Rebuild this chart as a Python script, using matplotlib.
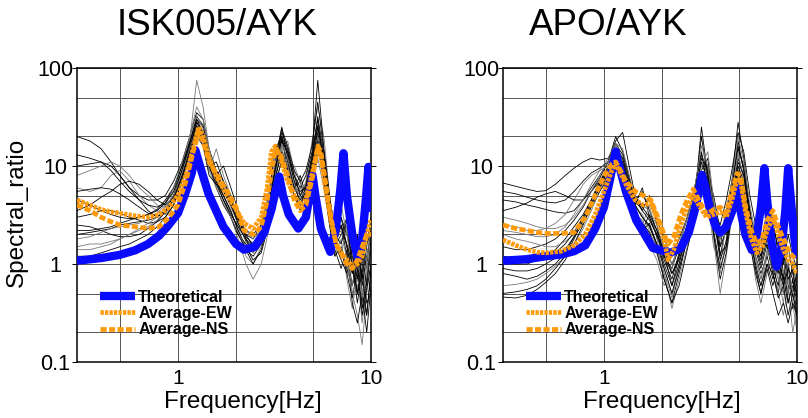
import matplotlib
matplotlib.use('Agg')
import matplotlib.pyplot as plt
from matplotlib.ticker import FixedLocator, NullFormatter


# Frequency grid of the individual records [Hz]
freq = [0.30, 0.35, 0.40, 0.45, 0.50, 0.56, 0.63, 0.70, 0.78, 0.86,
        0.95, 1.05, 1.15, 1.25, 1.35, 1.45, 1.58, 1.72, 1.88, 2.05,
        2.25, 2.45, 2.7, 2.95, 3.2, 3.45, 3.7, 4.0, 4.3, 4.6,
        4.95, 5.3, 5.7, 6.1, 6.5, 7.0, 7.5, 8.0, 8.5, 9.0, 9.5, 10.0]

# ISK005/AYK - individual spectral ratios
isk_records = [
    [20, 18, 15, 11, 8, 6, 5, 4.5, 4.5, 5, 7, 11, 20, 35, 30, 15, 9, 7, 5, 3,
     2, 1.5, 2, 4, 12, 25, 12, 6, 8, 5, 12, 30, 10, 4, 2, 3, 1.5, 0.8, 1.5, 0.6, 1.2, 2],
    [10, 10.5, 11, 10, 8, 6, 4.5, 3.5, 3, 3.5, 5, 9, 15, 28, 22, 12, 8, 10, 6, 3.5,
     2, 1.8, 2.5, 5, 15, 20, 9, 5, 4, 6, 10, 20, 7, 3, 1.5, 2, 3, 1, 0.4, 0.9, 2, 1.5],
    [6, 5.5, 6, 8, 9, 7, 5, 4, 3.5, 3.2, 4, 8, 18, 75, 40, 15, 8, 6, 4, 2.5,
     1.2, 1, 1.5, 3, 8, 15, 18, 9, 5, 7, 18, 40, 20, 5, 2, 1.2, 2.5, 0.5, 0.3, 0.15, 0.5, 1],
    [3, 3.2, 3.5, 3.5, 3.3, 3, 2.8, 2.6, 2.7, 3, 4, 7, 14, 30, 25, 12, 7, 5, 3.5, 2.2,
     1.5, 1.1, 1.3, 2.5, 7, 18, 14, 7, 4, 5, 9, 25, 12, 4, 1.8, 1.3, 0.9, 0.6, 1.2, 0.5, 0.3, 0.8],
    [2, 2.1, 2.2, 2.3, 2.5, 2.6, 2.7, 2.8, 3, 3.5, 5, 9, 16, 25, 18, 10, 6, 4, 3, 2,
     1.6, 1.4, 2, 4, 9, 14, 10, 6, 7, 4, 8, 15, 8, 3, 1.5, 2.5, 1.5, 0.8, 2, 0.7, 1.5, 3],
    [1.5, 1.6, 1.6, 1.7, 1.8, 2, 2.2, 2.4, 2.8, 3.5, 5.5, 10, 20, 40, 30, 14, 8, 5, 3, 1.8,
     1, 0.7, 1, 2.2, 6, 12, 9, 6, 5, 3.5, 6, 12, 6, 2.5, 1.2, 1.8, 0.7, 0.35, 0.8, 0.25, 0.6, 1.5],
    [4.5, 4, 3.5, 3.2, 3, 2.9, 3, 3.2, 3.6, 4.5, 6, 10, 18, 30, 22, 11, 9, 6, 4, 2.8,
     2.2, 2, 2.5, 4, 10, 22, 15, 8, 6, 8, 14, 75, 15, 5, 2.2, 3, 2, 1.2, 0.7, 1.5, 0.9, 2.5],
    [1.2, 1.2, 1.3, 1.4, 1.5, 1.6, 1.8, 2, 2.4, 3, 4, 7, 13, 22, 20, 12, 7, 4.5, 3, 2,
     1.4, 1.2, 1.6, 3, 7, 11, 8, 5, 3.5, 4.5, 7, 14, 9, 3.5, 1.6, 1.1, 0.8, 1.5, 0.5, 0.9, 0.4, 0.5],
    [8, 9, 10, 11, 10, 8, 6, 5, 4, 3.8, 4.5, 7, 12, 20, 16, 9, 15, 8, 5, 3,
     2.2, 1.8, 2.2, 3.5, 8, 16, 12, 10, 7, 5, 10, 18, 8, 4, 2.5, 4, 2, 1, 0.6, 0.4, 1, 1.2],
    [2.5, 2.4, 2.2, 2, 1.9, 1.9, 2, 2.3, 2.7, 3.4, 4.5, 8, 14, 26, 20, 10, 6.5, 4.5, 3.2, 2.4,
     1.8, 1.5, 1.8, 3.5, 9, 18, 11, 6, 4.5, 6, 11, 22, 10, 3, 1.4, 0.9, 1.4, 0.4, 0.25, 0.5, 0.2, 0.6],
    [13, 12, 11, 9, 7, 5.5, 4.5, 4, 3.8, 4.2, 6, 10, 17, 32, 26, 13, 8, 6, 4.5, 3,
     1.8, 1.3, 1.8, 3.5, 10, 24, 16, 9, 7, 9, 16, 45, 14, 4.5, 2, 2.5, 1.2, 0.6, 1, 0.35, 0.7, 1.8],
    [1.8, 1.9, 2.1, 2.3, 2.4, 2.5, 2.6, 2.9, 3.3, 4, 6, 11, 19, 33, 24, 12, 7.5, 5.5, 3.8, 2.6,
     1.9, 1.6, 2.2, 4.5, 11, 15, 10, 5.5, 6, 4.5, 9, 20, 9, 3.5, 1.8, 2.2, 1.1, 0.6, 1.3, 0.45, 0.8, 2.2],
    [3.5, 4, 4.8, 5.5, 6.5, 7, 6.5, 5.5, 4.5, 4, 4.8, 8, 15, 24, 19, 10, 11, 7, 4.5, 2.8,
     1.9, 1.6, 2, 3.8, 9, 19, 13, 7, 5.5, 6, 12, 26, 11, 4, 2, 1.6, 2.8, 0.9, 0.5, 1.2, 0.6, 1.4],
    [2.2, 2.2, 2.3, 2.4, 2.6, 2.8, 3, 3.2, 3.5, 4.2, 5.5, 9, 17, 28, 21, 11, 7, 5, 3.4, 2.2,
     1.4, 1.0, 1.4, 2.8, 8, 13, 9, 5, 4, 5.5, 10, 18, 7, 2.5, 1.2, 1.5, 0.8, 0.45, 0.9, 0.3, 0.55, 1.0],
    [1.4, 1.4, 1.5, 1.6, 1.8, 2, 2.3, 2.6, 3, 3.8, 5, 8.5, 15, 24, 18, 9, 6, 4.2, 3, 2.1,
     1.5, 1.3, 1.7, 3.2, 8.5, 17, 12, 6.5, 5, 5.5, 8, 17, 8.5, 3.2, 1.5, 1.4, 1.0, 0.5, 0.7, 0.5, 1.1, 2.5],
    [5.5, 5.8, 6, 5.8, 5.2, 4.5, 3.8, 3.3, 3.1, 3.3, 4.5, 7.5, 14, 22, 16, 8, 6.5, 5.5, 4, 2.6,
     1.7, 1.4, 1.9, 3.8, 9.5, 20, 14, 8, 5, 6.5, 13, 32, 13, 4.2, 1.9, 2.4, 1.6, 1.0, 0.5, 0.8, 0.3, 0.9],
]

# APO/AYK - individual spectral ratios
apo_records = [
    [6.7, 6.2, 5.8, 5.5, 5.6, 6.5, 8, 9.5, 11, 12, 11.5, 12, 16, 12, 7, 5, 3.5, 5, 2.5, 1.2,
     0.9, 1.5, 3, 6, 14, 6, 2.5, 1.8, 3, 6, 15, 10, 3.5, 1.8, 1.2, 2.5, 3, 1.2, 0.7, 1.5, 0.8, 0.5],
    [4.5, 4.3, 4.0, 3.8, 3.6, 3.4, 3.3, 3.5, 4.5, 6, 8, 11, 20, 14, 8, 4, 6, 3, 2, 1.3,
     0.6, 1.2, 2.2, 4, 9, 12, 4, 1.5, 2.2, 5, 12, 8, 2.5, 1.2, 2, 1.5, 0.8, 0.5, 1.2, 0.4, 0.7, 0.3],
    [2.5, 2.4, 2.2, 2.2, 2.3, 2.6, 3.2, 4.5, 6.5, 8, 9, 10, 14, 12, 6, 3.5, 2.5, 4, 1.8, 0.9,
     0.5, 1.0, 2, 3.5, 7, 6, 2, 0.8, 1.8, 4, 10, 6, 2, 0.9, 0.6, 1.2, 2.2, 0.7, 0.4, 0.9, 0.5, 0.25],
    [1.5, 1.4, 1.4, 1.5, 1.6, 1.8, 2.2, 2.8, 3.8, 5.5, 7, 9, 13, 11, 6, 4, 3, 2.5, 1.5, 0.7,
     0.4, 0.8, 1.8, 3.5, 8, 10, 3.5, 1.2, 2.5, 6, 18, 9, 3, 1.5, 1, 1.8, 1.2, 2, 0.8, 0.5, 1, 0.6],
    [1.0, 1.0, 1.0, 1.1, 1.2, 1.4, 1.8, 2.4, 3.2, 4.5, 6.5, 10, 15, 10, 5, 3, 2.2, 3.2, 2.2, 1.5,
     1, 1.4, 2.5, 5, 20, 7, 2.5, 1.5, 3.5, 7, 28, 12, 3.5, 1.2, 0.8, 1.2, 0.7, 1.5, 0.6, 1, 0.35, 0.4],
    [0.6, 0.62, 0.65, 0.7, 0.8, 0.95, 1.2, 1.6, 2.3, 3.5, 5.5, 8.5, 12, 9, 5, 3.2, 2.8, 2, 1.3, 0.8,
     0.35, 0.7, 1.5, 3, 6, 5, 1.8, 0.5, 1.2, 3, 8, 5, 1.8, 0.7, 0.4, 0.8, 1.2, 0.5, 0.3, 0.6, 0.2, 0.35],
    [0.46, 0.45, 0.48, 0.55, 0.65, 0.8, 1.1, 1.6, 2.5, 4, 6, 9, 13, 11, 7, 4.5, 3.5, 2.8, 2, 1.4,
     0.8, 1.1, 2, 4.5, 25, 8, 5, 2.2, 2, 4.5, 10, 7, 2.5, 1.4, 0.9, 1.6, 0.9, 0.6, 1.4, 0.6, 0.5, 0.8],
    [3.5, 3.8, 4.2, 4.8, 5.2, 5.5, 5, 4.5, 4.5, 5.5, 7.5, 11, 18, 22, 10, 5, 3.8, 4.5, 2.8, 1.8,
     1.2, 1.8, 3, 6, 13, 9, 3.5, 2.5, 4.5, 9, 22, 14, 5, 2.5, 1.6, 3.5, 2.5, 1.5, 1, 2, 1.2, 0.9],
    [2, 1.8, 1.7, 1.6, 1.5, 1.5, 1.7, 2.0, 2.8, 4.5, 7, 10, 12, 9, 4.5, 2.5, 2, 1.6, 1.1, 0.6,
     0.9, 1.6, 2.8, 5.5, 9, 4.5, 1.5, 1, 2.5, 5, 14, 7, 2.5, 1.2, 0.7, 1.3, 1.8, 0.9, 0.5, 0.7, 0.4, 0.2],
    [0.8, 0.75, 0.7, 0.75, 0.85, 1.0, 1.3, 1.9, 3, 4.5, 7, 9.5, 11, 9, 5.5, 3.8, 2.2, 2.6, 1.6, 1.0,
     0.6, 1, 2.2, 4, 7, 8, 3, 1.3, 1.5, 3.5, 9, 6, 2, 1, 0.6, 1.0, 0.6, 1.0, 0.7, 0.4, 0.6, 0.5],
    [5.5, 5.2, 4.8, 4.5, 4.3, 4.2, 4.5, 5.5, 7, 8.5, 9.5, 11, 17, 13, 7.5, 4.5, 5.5, 3.5, 2.2, 1.1,
     0.7, 1.3, 2.5, 5, 11, 7, 3, 2, 3.2, 6.5, 16, 9, 3, 1.5, 1.1, 2.2, 1.4, 0.8, 1.6, 0.7, 0.9, 0.45],
    [3, 2.8, 2.6, 2.4, 2.3, 2.3, 2.5, 3, 4, 5.5, 8, 11, 16, 12, 6.5, 3.8, 3.2, 2.2, 1.4, 0.8,
     0.45, 0.9, 1.9, 4, 10, 14, 4.5, 1.8, 2.8, 5.5, 13, 7.5, 2.2, 1.1, 0.7, 1.4, 1.0, 0.7, 0.5, 1.1, 0.5, 0.3],
    [1.2, 1.15, 1.1, 1.1, 1.15, 1.3, 1.6, 2.1, 3, 4.5, 6.5, 9, 14, 12, 6.5, 4.2, 3.8, 3, 1.9, 1.2,
     0.8, 1.2, 2.3, 4.5, 12, 9, 3, 1.1, 1.7, 4.5, 11, 8, 2.8, 1.6, 1.2, 2, 1.5, 0.9, 0.6, 0.9, 0.7, 0.4],
    [0.5, 0.52, 0.55, 0.6, 0.7, 0.9, 1.2, 1.8, 2.8, 4.2, 6, 8, 11, 10, 6, 4, 3, 2.4, 1.6, 0.9,
     0.5, 0.9, 1.8, 3.8, 8, 6.5, 2.2, 0.9, 1.5, 3.8, 9, 6, 2.2, 0.9, 0.5, 0.9, 0.5, 0.3, 0.4, 0.25, 0.4, 0.3],
    [2.2, 2.1, 2.0, 1.9, 1.9, 2.0, 2.4, 3.2, 4.5, 6.5, 9, 12, 17, 15, 8, 5, 4, 3.5, 2.5, 1.4,
     1.0, 1.6, 3, 6, 16, 10, 3.5, 2, 3.5, 7, 20, 11, 4, 2, 1.4, 2.8, 2.0, 1.2, 0.8, 1.5, 0.9, 0.7],
    [0.9, 0.85, 0.85, 0.9, 1.0, 1.15, 1.4, 1.9, 2.6, 3.8, 5.5, 7.5, 10, 9, 5.5, 3.5, 2.6, 2.1, 1.3, 0.7,
     0.4, 0.6, 1.4, 3, 6.5, 5.5, 2, 0.7, 1.3, 3.2, 7, 4.5, 1.6, 0.8, 0.5, 1.0, 0.8, 0.45, 0.6, 0.3, 0.5, 0.3],
]

# Theoretical transfer functions
isk_theory_f = [0.3, 0.4, 0.5, 0.6, 0.7, 0.8, 0.88, 1.0, 1.09, 1.18,
                1.23, 1.3, 1.44, 1.72, 2.0, 2.2, 2.5, 2.8, 3.05, 3.2,
                3.35, 3.5, 3.75, 4.2, 4.6, 4.85, 4.98, 5.15, 5.5, 6.15,
                6.6, 6.95, 7.2, 7.5, 8.0, 8.54, 9.0, 9.4, 9.7, 10.0]
isk_theory = [1.08, 1.15, 1.24, 1.38, 1.6, 1.95, 2.4, 3.3, 5.2, 8.5,
              14.5, 10, 5.2, 2.4, 1.6, 1.4, 1.5, 2.1, 3.6, 5.5,
              7.8, 5, 3.2, 2.3, 3.0, 5.5, 8, 5, 2.3, 1.33,
              2.4, 6, 13.5, 5, 2.0, 1.15, 1.8, 4.5, 9.8, 3.4]

apo_theory_f = [0.3, 0.4, 0.5, 0.6, 0.7, 0.8, 0.9, 1.0, 1.07, 1.15,
                1.2, 1.3, 1.47, 1.79, 2.21, 2.5, 2.75, 2.95, 3.1, 3.22,
                3.35, 3.55, 3.8, 4.0, 4.3, 4.6, 4.8, 4.93, 5.1, 5.4,
                5.83, 6.2, 6.5, 6.78, 7.0, 7.4, 7.85, 8.3, 8.7, 9.0,
                9.3, 9.7, 10.0]
apo_theory = [1.08, 1.12, 1.2, 1.25, 1.35, 1.55, 2.3, 3.8, 7, 14,
              10, 5.5, 2.8, 1.46, 1.3, 1.45, 2.1, 3.5, 5.5, 8.1,
              6, 3.5, 2.4, 2.1, 2.4, 3.4, 4.8, 6.1, 3.5, 2.0,
              1.39, 2.0, 3.8, 9.5, 4.5, 1.6, 0.94, 1.4, 3.5, 9.5,
              4.5, 1.8, 1.15]

# Average EW / NS ratios
isk_avg_f = [0.3, 0.35, 0.4, 0.45, 0.5, 0.6, 0.7, 0.8, 0.9, 1.0,
             1.1, 1.2, 1.28, 1.35, 1.45, 1.6, 1.8, 2.0, 2.2, 2.45,
             2.7, 2.9, 3.05, 3.2, 3.4, 3.7, 4.0, 4.3, 4.6, 5.0,
             5.3, 5.5, 5.8, 6.2, 6.6, 7.0, 7.5, 8.0, 8.5, 9.0, 9.5, 10]
isk_ew = [4.5, 4.0, 3.6, 3.4, 3.3, 3.1, 3.0, 3.2, 3.8, 5.0,
          8.0, 15, 25, 20, 12, 7.5, 5.0, 3.6, 2.6, 2.3,
          3.0, 6.0, 14, 16, 12, 7, 5, 4, 4.5, 9,
          15, 13, 6, 2.8, 1.6, 1.3, 1.1, 0.95, 1.0, 1.2, 2.0, 2.8]
isk_ns = [4.0, 3.5, 3.0, 2.7, 2.5, 2.4, 2.3, 2.4, 3.0, 4.0,
          7, 14, 22, 18, 11, 8, 5.5, 3.8, 2.2, 2.0,
          2.4, 4.5, 9, 15, 13, 8, 4.5, 3.5, 4.0, 8,
          16, 14, 7, 3, 1.6, 1.3, 1.0, 0.9, 1.1, 1.5, 2.0, 2.0]

apo_avg_f = [0.3, 0.35, 0.4, 0.45, 0.5, 0.6, 0.7, 0.8, 0.9, 1.0,
             1.1, 1.15, 1.2, 1.3, 1.45, 1.6, 1.75, 1.9, 2.05, 2.15,
             2.3, 2.5, 2.7, 2.9, 3.1, 3.4, 3.7, 4.0, 4.3, 4.6,
             4.9, 5.1, 5.4, 5.8, 6.2, 6.6, 7.0, 7.5, 8.0, 8.5,
             9.0, 9.5, 10]
apo_ew = [1.76, 1.55, 1.4, 1.32, 1.3, 1.35, 1.55, 2.0, 3.2, 5.5,
          9, 10.5, 9, 6.5, 4.5, 4, 4.2, 2.8, 1.8, 1.1,
          1.4, 2.5, 3.8, 5.0, 4.0, 3.0, 3.2, 3.4, 3.0, 4.5,
          7.5, 7, 3.5, 1.8, 1.3, 1.5, 2.2, 3.0, 2.0, 1.4,
          1.1, 1.0, 0.8]
apo_ns = [2.5, 2.3, 2.2, 2.1, 2.05, 2.05, 2.1, 3.0, 5, 7.8,
          10.5, 11, 9.5, 7, 5.5, 5.0, 4.5, 3, 2.0, 1.6,
          1.9, 3.2, 4.5, 5.8, 4.5, 3.2, 3.6, 3.8, 3.3, 5.5,
          8.4, 8, 4, 2.2, 1.6, 1.8, 2.8, 3.5, 2.4, 1.8,
          1.4, 1.2, 1.1]

y_ticks = [0.1, 1, 10, 100]
y_labels = ['0.1', '1', '10', '100']
x_ticks = [1, 10]
x_labels = ['1', '10']


plt.rcParams['font.family'] = ['Liberation Sans', 'DejaVu Sans']

ORANGE = '#ff9a0a'
BLUE = '#0a0aff'

fig = plt.figure(figsize=(8.08, 4.18), dpi=100)
ax1 = fig.add_axes([77 / 808, 56 / 418, 294 / 808, 294 / 418])
ax2 = fig.add_axes([503 / 808, 56 / 418, 294 / 808, 294 / 418])


def draw_panel(ax, records, th_f, th, avg_f, ew, ns, xlab_x):
    for i, rec in enumerate(records):
        col = '#777777' if i % 3 == 2 else '#000000'
        ax.plot(freq, rec, color=col, lw=0.6, zorder=2)
    ax.plot(th_f, th, color=BLUE, lw=6, solid_capstyle='butt',
            zorder=3, label='Theoretical')
    ax.plot(avg_f, ew, color=ORANGE, lw=3.4, ls=(0, (0.7, 0.25)),
            zorder=4, label='Average-EW')
    ax.plot(avg_f, ns, color=ORANGE, lw=3.4, ls=(0, (1.3, 0.5)),
            zorder=4, label='Average-NS')

    ax.set_xscale('log')
    ax.set_yscale('log')
    ax.set_xlim(0.3, 10)
    ax.set_ylim(0.1, 100)

    ax.set_xticks(x_ticks, labels=x_labels)
    ax.xaxis.set_minor_locator(FixedLocator([0.5, 2, 5]))
    ax.xaxis.set_minor_formatter(NullFormatter())
    ax.set_yticks(y_ticks, labels=y_labels)
    ax.yaxis.set_minor_locator(FixedLocator([0.2, 0.5, 2, 5, 20, 50]))
    ax.yaxis.set_minor_formatter(NullFormatter())
    for lbl in ax.get_yticklabels():
        lbl.set_horizontalalignment('center')

    ax.grid(True, which='both', color='#555555', lw=0.7)
    ax.set_axisbelow(True)
    ax.tick_params(axis='x', which='both', length=0, pad=5, labelsize=15)
    ax.tick_params(axis='y', which='major', direction='out', length=3.6,
                   width=0.7, pad=12, labelsize=15.5, right=True)
    ax.tick_params(axis='y', which='minor', direction='out', length=0,
                   width=0.7, right=True)
    for side in ax.spines.values():
        side.set_linewidth(1.1)

    ax.set_xlabel('Frequency[Hz]', fontsize=17.5)
    ax.xaxis.set_label_coords(xlab_x, -0.097)

    ax.legend(loc='center left', bbox_to_anchor=(0.078, 0.165),
              frameon=False, borderpad=0, borderaxespad=0,
              handlelength=2.2, handletextpad=0.2, labelspacing=0.08,
              prop={'weight': 'bold', 'size': 11.5})


draw_panel(ax1, isk_records, isk_theory_f, isk_theory,
           isk_avg_f, isk_ew, isk_ns, 0.565)
draw_panel(ax2, apo_records, apo_theory_f, apo_theory,
           apo_avg_f, apo_ew, apo_ns, 0.541)

ax1.set_ylabel('Spectral_ratio', fontsize=17.5)
ax1.yaxis.set_label_coords(-0.167, 0.51)

fig.text(217.5 / 808, 1 - 35 / 418, 'ISK005/AYK', ha='center',
         va='baseline', fontsize=26.5)
fig.text(608 / 808, 1 - 35 / 418, 'APO/AYK', ha='center',
         va='baseline', fontsize=26.5)

plt.savefig('out.png', dpi=100)
plt.close()
